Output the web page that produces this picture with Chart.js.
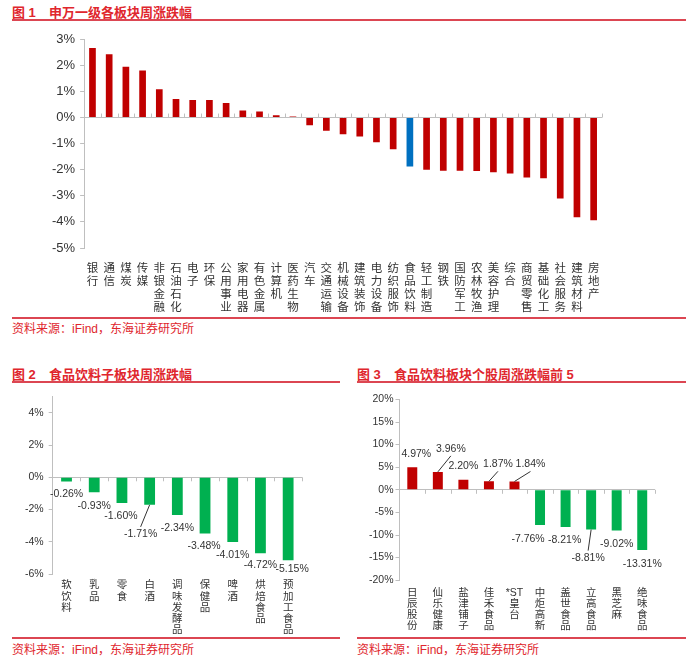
<!DOCTYPE html>
<html>
<head>
<meta charset="utf-8">
<script src="https://cdn.jsdelivr.net/npm/chart.js@4.4.0/dist/chart.umd.min.js"></script>
<style>
  body { margin: 0; background: #fff; }
  #page { position: relative; width: 700px; height: 663px; font-family: 'Liberation Sans', 'Noto Sans CJK SC', sans-serif; }
  .title { position: absolute; color: #e0262d; font-weight: bold; font-size: 13px; white-space: nowrap; }
  .title .no { display: inline-block; width: 37px; }
  .rule { position: absolute; height: 2px; background: #dc4652; }
  .source { position: absolute; color: #e0262d; font-size: 12px; white-space: nowrap; }
  canvas { position: absolute; }
</style>
</head>
<body>
<div id="page">
  <div class="title" style="left:12px;top:2px"><span class="no">图 1</span>申万一级各板块周涨跌幅</div>
  <div class="rule" style="left:12px;top:19px;width:674px"></div>
  <div class="rule" style="left:12px;top:317px;width:674px"></div>
  <div class="source" style="left:12px;top:319px">资料来源：iFind，东海证券研究所</div>
  <canvas id="chart1" width="620" height="298" style="left:0;top:22px"></canvas>

  <div class="title" style="left:12px;top:364px"><span class="no">图 2</span>食品饮料子板块周涨跌幅</div>
  <div class="rule" style="left:12px;top:381px;width:328px"></div>
  <div class="rule" style="left:12px;top:637px;width:328px"></div>
  <div class="source" style="left:12px;top:640px">资料来源：iFind，东海证券研究所</div>
  <canvas id="chart2" width="320" height="249" style="left:0;top:385px"></canvas>

  <div class="title" style="left:357px;top:364px"><span class="no">图 3</span>食品饮料板块个股周涨跌幅前 5</div>
  <div class="rule" style="left:357px;top:381px;width:329px"></div>
  <div class="rule" style="left:357px;top:637px;width:329px"></div>
  <div class="source" style="left:357px;top:640px">资料来源：iFind，东海证券研究所</div>
  <canvas id="chart3" width="330" height="246" style="left:345px;top:385px"></canvas>
</div>
<script>
// 图1 申万一级行业周涨跌幅 (%)
const sectors = ['银行','通信','煤炭','传媒','非银金融','石油石化','电子','环保','公用事业','家用电器',
  '有色金属','计算机','医药生物','汽车','交通运输','机械设备','建筑装饰','电力设备','纺织服饰','食品饮料',
  '轻工制造','钢铁','国防军工','农林牧渔','美容护理','综合','商贸零售','基础化工','社会服务','建筑材料','房地产'];
const sectorChange = [2.67, 2.43, 1.95, 1.80, 1.09, 0.71, 0.67, 0.67, 0.56, 0.27,
  0.23, 0.09, 0.04, -0.29, -0.51, -0.64, -0.73, -0.95, -1.21, -1.88,
  -2.00, -2.04, -2.04, -2.05, -2.10, -2.14, -2.30, -2.33, -3.10, -3.82, -3.94];
const highlightSector = '食品饮料';

// 图2 食品饮料子板块
const subSectors = ['软饮料','乳品','零食','白酒','调味发酵品','保健品','啤酒','烘焙食品','预加工食品'];
const subSectorChange = [-0.26, -0.93, -1.60, -1.71, -2.34, -3.48, -4.01, -4.72, -5.15];

// 图3 个股涨跌幅前5 / 后5
const stocks = ['日辰股份','仙乐健康','盐津铺子','佳禾食品','*ST皇台','中炬高新','盖世食品','立高食品','黑芝麻','绝味食品'];
const stockChange = [4.97, 3.96, 2.20, 1.87, 1.84, -7.76, -8.21, -8.81, -9.02, -13.31];

const RED = '#c00000', GREEN = '#00b050', BLUE = '#0070c0';
const AXIS = '#bfbfbf', TEXT = '#333333';
const NUM_FONT = "'Liberation Sans', 'Noto Sans CJK SC', sans-serif";

// stack label characters vertically, keep ascii runs like *ST together
function vertical(s) { return s.match(/[\x21-\x7e]+|./gu); }
const pct = v => v + '%';

// value labels under/over each bar, some moved aside with a leader line
const valueLabels = {
  id: 'valueLabels',
  afterDatasetsDraw(chart, args, opts) {
    if (!opts.offsets) return;
    const ctx = chart.ctx;
    const bars = chart.getDatasetMeta(0).data;
    const data = chart.data.datasets[0].data;
    ctx.save();
    ctx.font = opts.font;
    ctx.fillStyle = TEXT;
    ctx.strokeStyle = TEXT;
    ctx.lineWidth = 1;
    ctx.textAlign = 'center';
    ctx.textBaseline = 'middle';
    bars.forEach((bar, i) => {
      const [dx, dy] = opts.offsets[i];
      const x = bar.x + dx, y = bar.y + dy;
      if (opts.leaders.includes(i)) {
        ctx.beginPath();
        ctx.moveTo(bar.x, bar.y);
        ctx.lineTo(x, y - Math.sign(dy) * 7);
        ctx.stroke();
      }
      ctx.fillText(data[i].toFixed(2) + '%', x, y);
    });
    ctx.restore();
  }
};

// small category ticks on the zero line
const zeroTicks = {
  id: 'zeroTicks',
  afterDatasetsDraw(chart, args, opts) {
    if (!opts.len) return;
    const ctx = chart.ctx, xs = chart.scales.x, ys = chart.scales.y;
    const y0 = ys.getPixelForValue(0);
    const n = chart.data.labels.length;
    const w = (xs.right - xs.left) / n;
    ctx.save();
    ctx.strokeStyle = AXIS;
    ctx.lineWidth = 1;
    ctx.beginPath();
    for (let k = 1; k <= n; k++) {
      const px = Math.round(xs.left + k * w) + 0.5;
      ctx.moveTo(px, y0);
      ctx.lineTo(px, y0 + opts.len);
    }
    ctx.stroke();
    ctx.restore();
  }
};

function baseOptions(o) {
  return {
    responsive: false,
    animation: false,
    layout: { padding: o.padding },
    plugins: {
      legend: { display: false },
      tooltip: { enabled: false },
      valueLabels: o.valueLabels || {},
      zeroTicks: { len: o.tickLen }
    },
    scales: {
      x: {
        grid: { display: false },
        border: { display: false },
        ticks: {
          autoSkip: false, maxRotation: 0, minRotation: 0,
          color: TEXT, padding: o.xPad,
          font: { family: NUM_FONT, size: o.xFont, lineHeight: o.xLine }
        }
      },
      y: {
        min: o.min, max: o.max,
        afterBuildTicks: o.afterBuildTicks,
        border: { color: AXIS },
        grid: {
          color: c => c.tick.value === 0 ? AXIS : 'rgba(0,0,0,0)',
          tickColor: AXIS, tickLength: 4
        },
        ticks: {
          stepSize: o.step, color: TEXT, padding: o.yPad,
          font: { family: NUM_FONT, size: o.yFont },
          callback: pct
        }
      }
    }
  };
}

new Chart(document.getElementById('chart1'), {
  type: 'bar',
  data: {
    labels: sectors.map(vertical),
    datasets: [{
      data: sectorChange,
      backgroundColor: sectors.map(s => s === highlightSector ? BLUE : RED),
      categoryPercentage: 1, barPercentage: 0.4
    }]
  },
  options: baseOptions({
    padding: { left: 47, right: 18, top: 17.3, bottom: 0 },
    min: -5, max: 3, step: 1,
    xFont: 11.5, xLine: '13px', xPad: 6, yFont: 13, yPad: 5, tickLen: -4
  }),
  plugins: [zeroTicks]
});

new Chart(document.getElementById('chart2'), {
  type: 'bar',
  data: {
    labels: subSectors.map(vertical),
    datasets: [{ data: subSectorChange, backgroundColor: GREEN, categoryPercentage: 1, barPercentage: 0.39 }]
  },
  options: baseOptions({
    padding: { left: 20, right: 18, top: 11.7, bottom: 0 },
    min: -6, max: 5, step: 2,
    afterBuildTicks: s => { s.ticks = s.ticks.filter(t => t.value % 2 === 0); },
    xFont: 10.5, xLine: '11.2px', xPad: -2, yFont: 10.5, yPad: 5, tickLen: 4,
    valueLabels: {
      font: '10.5px ' + NUM_FONT,
      offsets: [[0, 13], [0, 14], [-1, 13], [-9, 29], [0, 13], [-1, 13], [0, 13], [0, 12], [4, 9]],
      leaders: [3]
    }
  }),
  plugins: [zeroTicks, valueLabels]
});

new Chart(document.getElementById('chart3'), {
  type: 'bar',
  data: {
    labels: stocks.map(vertical),
    datasets: [{
      data: stockChange,
      backgroundColor: stockChange.map(v => v >= 0 ? RED : GREEN),
      categoryPercentage: 1, barPercentage: 0.39
    }]
  },
  options: baseOptions({
    padding: { left: 22, right: 20, top: 14.4, bottom: 0 },
    min: -20, max: 20, step: 5,
    xFont: 10.5, xLine: '11.2px', xPad: -1, yFont: 10.5, yPad: 2, tickLen: 4,
    valueLabels: {
      font: '10.5px ' + NUM_FONT,
      offsets: [[4, -13], [13, -23], [0, -14], [9, -17], [16, -17], [-12, 14], [-1, 13.5], [-3, 28], [0, 14], [0, 14]],
      leaders: [1, 3, 4, 7]
    }
  }),
  plugins: [zeroTicks, valueLabels]
});
</script>
</body>
</html>
